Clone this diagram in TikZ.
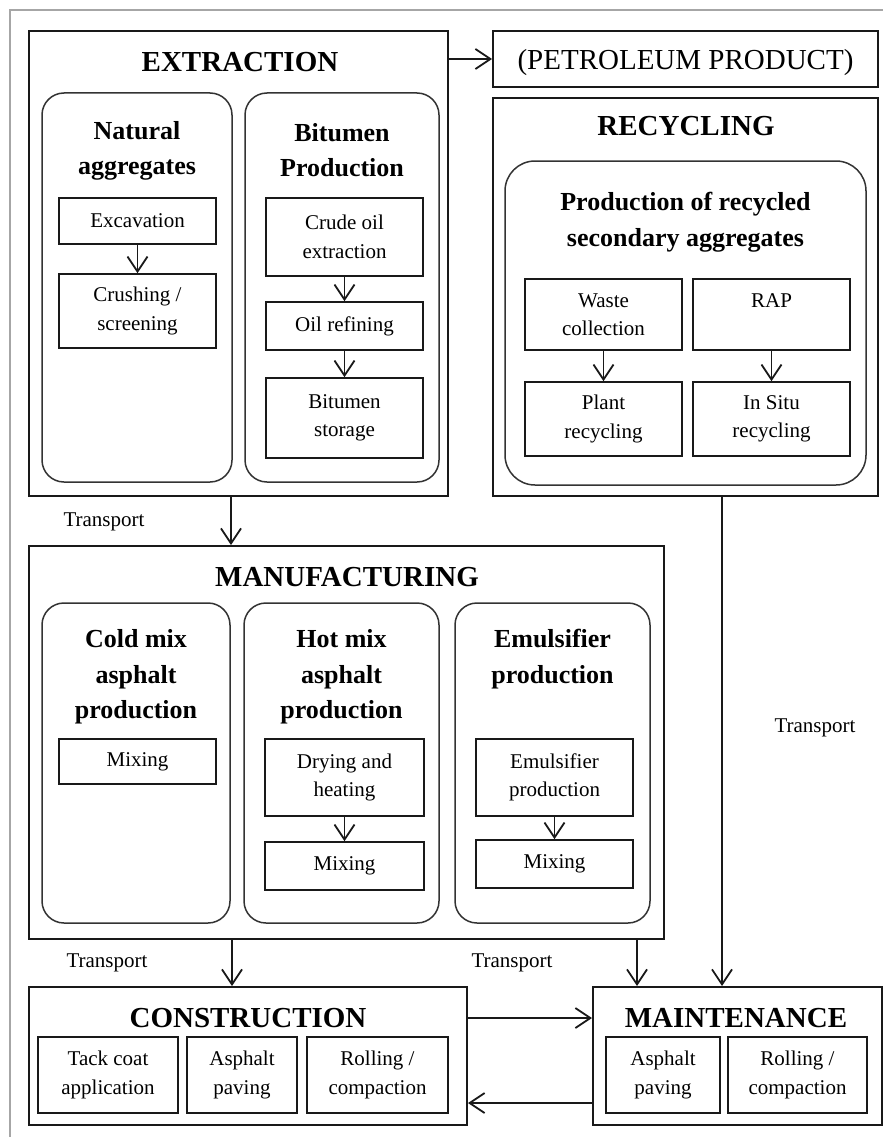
\documentclass[tikz,border=0pt]{standalone}
\usepackage{fontspec}
\setmainfont{Liberation Serif}
\usetikzlibrary{arrows.meta,calc}
\tikzset{
 bigbox/.style={draw=black!90, line width=2pt, inner sep=0pt},
 roundbox/.style={draw=black!80, line width=1.5pt, rounded corners=22pt, inner sep=0pt},
 stepbox/.style={draw=black!90, line width=1.7pt, align=center, inner sep=0pt, font=\fontsize{21}{28.5}\selectfont},
 bigtitle/.style={font=\fontsize{29}{35}\selectfont\bfseries, inner sep=0pt},
 plaintitle/.style={font=\fontsize{29}{35}\selectfont, inner sep=0pt},
 subtitle/.style={font=\fontsize{26}{35.5}\selectfont\bfseries, align=center, inner sep=0pt},
 lbl/.style={font=\fontsize{21}{25}\selectfont, inner sep=0pt},
 arr/.style={draw=black!90, line width=1.8pt, -{Straight Barb[length=15pt,width=20pt,line width=1.8pt]}},
}
\begin{document}
\begin{tikzpicture}[x=1pt,y=-1pt]
\useasboundingbox (0,0) rectangle (883,1137);
\fill[white] (0,0) rectangle (883,1137);
\draw[gray!70, line width=1.2pt] (10,1137) -- (10,10) -- (883,10);

% EXTRACTION
\node[bigbox, minimum width=419pt, minimum height=465pt] (extr) at (238.5,263.5) {};
\node[bigtitle] (extrT) at (240,62) {EXTRACTION};
\node[roundbox, minimum width=190pt, minimum height=389pt] (nat) at (137,287.5) {};
\node[subtitle] (natT) at (137,151) {Natural\\aggregates};
\node[stepbox, minimum width=157pt, minimum height=46pt] (exc) at (137.5,221) {Excavation};
\node[stepbox, minimum width=157pt, minimum height=74pt] (crush) at (137.5,311) {Crushing /\\screening};
\draw[arr] (exc.south) -- (crush.north);
\node[roundbox, minimum width=194pt, minimum height=389pt] (bit) at (342,287.5) {};
\node[subtitle] (bitT) at (342,150) {Bitumen\\Production};
\node[stepbox, minimum width=157pt, minimum height=78pt] (crude) at (344.5,237) {Crude oil\\extraction};
\node[stepbox, minimum width=157pt, minimum height=48pt] (refin) at (344.5,326) {Oil refining};
\node[stepbox, minimum width=157pt, minimum height=80pt] (stor) at (344.5,418) {Bitumen\\storage};
\draw[arr] (crude.south) -- (refin.north);
\draw[arr] (refin.south) -- (stor.north);

% PETROLEUM
\node[bigbox, minimum width=385pt, minimum height=56pt, plaintitle, text depth=0pt] (pet) at (685.5,59) {(PETROLEUM PRODUCT)};
\draw[arr] (pet.west -| extr.east) -- (pet.west);

% RECYCLING
\node[bigbox, minimum width=385pt, minimum height=398pt] (rec) at (685.5,297) {};
\node[bigtitle] (recT) at (686,126) {RECYCLING};
\node[roundbox, rounded corners=30pt, minimum width=361pt, minimum height=324pt] (prod) at (685.5,323) {};
\node[subtitle] (prodT) at (685.5,222) {Production of recycled\\secondary aggregates};
\node[stepbox, minimum width=157pt, minimum height=71pt] (waste) at (603.5,314.5) {Waste\\collection};
\node[stepbox, minimum width=157pt, minimum height=71pt] (rap) at (771.5,314.5) {RAP\\\mbox{}};
\node[stepbox, minimum width=157pt, minimum height=74pt] (plant) at (603.5,419) {Plant\\recycling};
\node[stepbox, minimum width=157pt, minimum height=74pt] (insitu) at (771.5,419) {In Situ\\recycling};
\draw[arr] (waste.south) -- (plant.north);
\draw[arr] (rap.south) -- (insitu.north);

% MANUFACTURING
\node[bigbox, minimum width=635pt, minimum height=393pt] (manu) at (346.5,742.5) {};
\node[bigtitle] (manuT) at (347,577) {MANUFACTURING};
\node[roundbox, minimum width=188pt, minimum height=320pt] (cold) at (136,763) {};
\node[subtitle] (coldT) at (136,677) {Cold mix\\asphalt\\production};
\node[stepbox, minimum width=157pt, minimum height=45pt] (cmix) at (137.5,761.5) {Mixing};
\node[roundbox, minimum width=195pt, minimum height=320pt] (hot) at (341.5,763) {};
\node[subtitle] (hotT) at (341.5,677) {Hot mix\\asphalt\\production};
\node[stepbox, minimum width=159pt, minimum height=77pt] (dry) at (344.5,777.5) {Drying and\\heating};
\node[stepbox, minimum width=159pt, minimum height=48pt] (hmix) at (344.5,866) {Mixing};
\draw[arr] (dry.south) -- (hmix.north);
\node[roundbox, minimum width=195pt, minimum height=320pt] (emu) at (552.5,763) {};
\node[subtitle] (emuT) at (552.5,659) {Emulsifier\\production};
\node[stepbox, minimum width=157pt, minimum height=77pt] (emp) at (554.5,777.5) {Emulsifier\\production};
\node[stepbox, minimum width=157pt, minimum height=48pt] (emix) at (554.5,864) {Mixing};
\draw[arr] (emp.south) -- (emix.north);

% CONSTRUCTION
\node[bigbox, minimum width=438pt, minimum height=138pt] (con) at (248,1056) {};
\node[bigtitle] (conT) at (248,1018) {CONSTRUCTION};
\node[stepbox, minimum width=140pt, minimum height=76pt] (tack) at (108,1075) {Tack coat\\application};
\node[stepbox, minimum width=110pt, minimum height=76pt] (pave) at (242,1075) {Asphalt\\paving};
\node[stepbox, minimum width=141pt, minimum height=76pt] (roll) at (377.5,1075) {Rolling /\\compaction};

% MAINTENANCE
\node[bigbox, minimum width=289pt, minimum height=138pt] (maint) at (737.5,1056) {};
\node[bigtitle] (maintT) at (736,1018) {MAINTENANCE};
\node[stepbox, minimum width=114pt, minimum height=76pt] (mpave) at (663,1075) {Asphalt\\paving};
\node[stepbox, minimum width=139pt, minimum height=76pt] (mroll) at (797.5,1075) {Rolling /\\compaction};

% connectors
\coordinate (ex2man) at ($(extr.south)+(-7.5,0)$);
\draw[arr] (ex2man) -- (ex2man |- manu.north);
\node[lbl] (t1) at (104,522) {Transport};

\coordinate (recout) at ($(rec.south)+(36.5,0)$);
\draw[arr] (recout) -- (recout |- maint.north);
\node[lbl] (t2) at (815,728) {Transport};

\coordinate (man2con) at ($(manu.south west)+(204,0)$);
\draw[arr] (man2con) -- (man2con |- con.north);
\coordinate (man2mai) at ($(manu.south west)+(609,0)$);
\draw[arr] (man2mai) -- (man2mai |- maint.north);
\node[lbl] (t3) at (107,963) {Transport};
\node[lbl] (t4) at (512,963) {Transport};

\coordinate (c2m) at ($(con.north east)+(0,32)$);
\draw[arr] (c2m) -- (c2m -| maint.west);
\coordinate (m2c) at ($(maint.south west)+(0,-23)$);
\draw[arr] (m2c) -- (m2c -| con.east);
\end{tikzpicture}
\end{document}
